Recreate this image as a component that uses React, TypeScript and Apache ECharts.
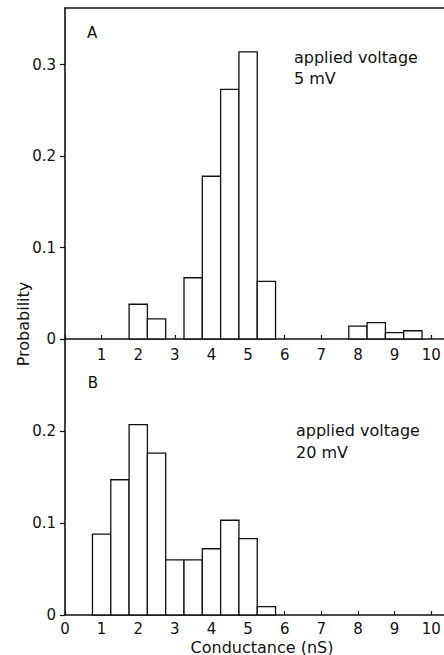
import React, { useEffect, useRef } from "react";
import * as echarts from "echarts";

const BIN = 0.5;
const binsA = [2, 2.5, 3.5, 4, 4.5, 5, 5.5, 8, 8.5, 9, 9.5];
const probA = [0.038, 0.022, 0.067, 0.178, 0.273, 0.314, 0.063, 0.014, 0.018, 0.007, 0.009];
const binsB = [1, 1.5, 2, 2.5, 3, 3.5, 4, 4.5, 5, 5.5];
const probB = [0.088, 0.147, 0.207, 0.176, 0.06, 0.06, 0.072, 0.103, 0.083, 0.009];

const xTicksA = [1, 2, 3, 4, 5, 6, 7, 8, 9, 10];
const xTicksB = [0, 1, 2, 3, 4, 5, 6, 7, 8, 9, 10];
const yTicksA = [0, 0.1, 0.2, 0.3];
const yLabelsB = [0, 0.1, 0.2];
const yTicksB = [0, 0.1, 0.2, 0.3];

const FONT = "DejaVu Sans";
const INK = "#111";

export default function App() {
  const ref = useRef<HTMLDivElement>(null);
  useEffect(() => {
    document.body.style.margin = "0";
    const chart = echarts.init(ref.current!, null, { renderer: "svg" });
    const fmtY = (v: number) => (v === 0 ? "0" : v.toFixed(1));
    const axisLine = { show: true, lineStyle: { color: INK, width: 1.6 } };
    const labelStyle = { color: INK, fontFamily: FONT, fontSize: 15 };
    const renderItem = (params: any, api: any) => {
      const c = api.value(0);
      const v = api.value(1);
      const p0 = api.coord([c - BIN / 2, 0]);
      const p1 = api.coord([c + BIN / 2, v]);
      return {
        type: "rect",
        shape: { x: p0[0], y: p1[1], width: p1[0] - p0[0], height: p0[1] - p1[1] },
        style: { fill: "#fff", stroke: INK, lineWidth: 1.3 },
      };
    };
    const xCommon = {
      type: "value",
      min: 0,
      max: 10.35,
      splitLine: { show: false },
      axisLine,
    };
    const t = (text: string, x: number, y: number, align: string, size = 16, extra: any = {}) => ({
      type: "text",
      x,
      y,
      ...extra,
      style: { text, fill: INK, font: `${size}px ${FONT}`, align, verticalAlign: "middle" },
    });
    chart.setOption({
      animation: false,
      backgroundColor: "#fff",
      grid: [
        { left: 65, top: 8, width: 379, height: 331 },
        { left: 65, top: 339, width: 379, height: 276 },
      ],
      xAxis: [
        {
          ...xCommon,
          gridIndex: 0,
          position: "bottom",
          axisTick: { show: true, inside: true, length: 4, customValues: xTicksB, lineStyle: { color: INK, width: 1.2 } },
          axisLabel: { ...labelStyle, margin: 8, customValues: xTicksA, formatter: (v: number) => String(v) },
        },
        {
          ...xCommon,
          gridIndex: 0,
          position: "top",
          axisTick: { show: false },
          axisLabel: { show: false },
        },
        {
          ...xCommon,
          gridIndex: 1,
          position: "bottom",
          axisTick: { show: true, inside: true, length: 4, customValues: xTicksB, lineStyle: { color: INK, width: 1.2 } },
          axisLabel: { ...labelStyle, margin: 6, customValues: xTicksB, formatter: (v: number) => String(v) },
        },
      ],
      yAxis: [
        {
          type: "value",
          gridIndex: 0,
          min: 0,
          max: 0.362,
          splitLine: { show: false },
          axisLine,
          axisTick: { show: true, length: 5, customValues: yTicksA, lineStyle: { color: INK, width: 1.2 } },
          axisLabel: { ...labelStyle, margin: 9, customValues: yTicksA, formatter: fmtY },
        },
        {
          type: "value",
          gridIndex: 1,
          min: 0,
          max: 0.3,
          splitLine: { show: false },
          axisLine,
          axisTick: { show: true, length: 5, customValues: yTicksB, lineStyle: { color: INK, width: 1.2 } },
          axisLabel: { ...labelStyle, margin: 9, customValues: yLabelsB, formatter: fmtY },
        },
      ],
      series: [
        {
          type: "custom",
          xAxisIndex: 0,
          yAxisIndex: 0,
          renderItem,
          encode: { x: 0, y: 1 },
          data: binsA.map((b, i) => [b, probA[i]]),
        },
        {
          type: "custom",
          xAxisIndex: 2,
          yAxisIndex: 1,
          renderItem,
          encode: { x: 0, y: 1 },
          data: binsB.map((b, i) => [b, probB[i]]),
        },
      ],
      graphic: [
        t("A", 92, 33, "center", 15),
        t("B", 93, 383, "center", 15),
        t("applied voltage", 294, 57, "left"),
        t("5 mV", 294, 78, "left"),
        t("applied voltage", 296, 430, "left"),
        t("20 mV", 296, 452, "left"),
        t("Probability", 23, 324, "center", 16, { rotation: Math.PI / 2 }),
        t("Conductance (nS)", 262, 647, "center", 16),
      ],
    });
    return () => chart.dispose();
  }, []);
  return <div ref={ref} style={{ width: 444, height: 655 }} />;
}
